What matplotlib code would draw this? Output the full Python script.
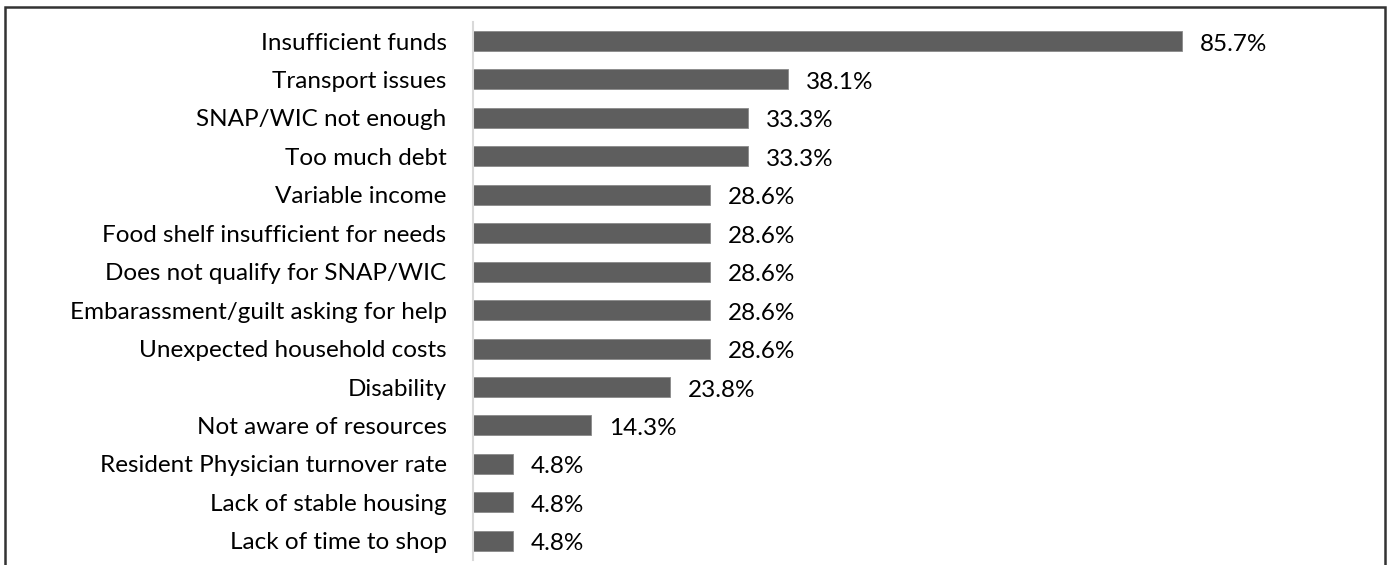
import matplotlib.pyplot as plt
from matplotlib.patches import Rectangle

plt.rcParams["font.family"] = ["Lato", "DejaVu Sans"]

CATEGORIES = [
    "Insufficient funds",
    "Transport issues",
    "SNAP/WIC not enough",
    "Too much debt",
    "Variable income",
    "Food shelf insufficient for needs",
    "Does not qualify for SNAP/WIC",
    "Embarassment/guilt asking for help",
    "Unexpected household costs",
    "Disability",
    "Not aware of resources",
    "Resident Physician turnover rate",
    "Lack of stable housing",
    "Lack of time to shop",
]
VALUES = [85.7, 38.1, 33.3, 33.3, 28.6, 28.6, 28.6, 28.6, 28.6, 23.8, 14.3, 4.8, 4.8, 4.8]

W, H = 1389, 565
fig = plt.figure(figsize=(W / 100, H / 100), dpi=100)

# axes placed in pixel terms
left, right, top, bottom = 473, 1385, 21.8, 560.0
ax = fig.add_axes([left / W, 1 - bottom / H, (right - left) / W, (bottom - top) / H])

y = list(range(len(CATEGORIES)))
ax.barh(y, VALUES, height=0.52, color="#5e5e5e", edgecolor="#8a8a8a", linewidth=0.6)
ax.set_ylim(len(CATEGORIES) - 0.5, -0.5)
ax.set_xlim(0, (right - left) / 8.27)

for yi, v in zip(y, VALUES):
    ax.annotate(f"{v}%", (v, yi), xytext=(18, -3), textcoords="offset pixels",
                va="center", ha="left", fontsize=17.5, color="black")

ax.set_yticks(y)
ax.set_yticklabels(CATEGORIES, fontsize=17.5)
ax.tick_params(axis="y", length=0, pad=19)
ax.set_xticks([])
for s in ["top", "right", "bottom"]:
    ax.spines[s].set_visible(False)
ax.spines["left"].set_color("#d9d9d9")
ax.spines["left"].set_linewidth(1.5)

# outer frame
fig.patches.append(Rectangle((5 / W, -0.1), (1385 - 5) / W, 1 - 7 / H + 0.1,
                             transform=fig.transFigure, fill=False,
                             edgecolor="#333333", linewidth=1.8))

fig.savefig("out.png", dpi=100)
